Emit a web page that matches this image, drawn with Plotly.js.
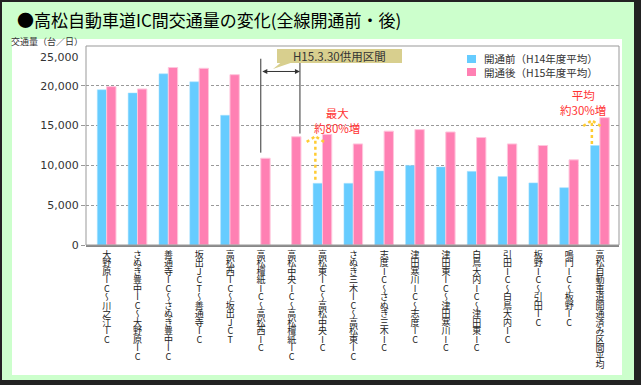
<!DOCTYPE html>
<html>
<head>
<meta charset="utf-8">
<script src="https://cdn.plot.ly/plotly-3.0.1.min.js"></script>
<style>
  html, body { margin: 0; padding: 0; background: #222; }
  #chart { width: 641px; height: 385px; }
</style>
</head>
<body>
<div id="chart"></div>
<script>
// ---- data ----
var categories = [
  "大野原IC～川之江IC",
  "さぬき豊中IC～大野原IC",
  "善通寺IC～さぬき豊中IC",
  "坂出JCT～善通寺IC",
  "高松西IC～坂出JCT",
  "高松檀紙IC～高松西IC",
  "高松中央IC～高松檀紙IC",
  "高松東IC～高松中央IC",
  "さぬき三木IC～高松東IC",
  "志度IC～さぬき三木IC",
  "津田寒川IC～志度IC",
  "津田東IC～津田寒川IC",
  "白鳥大内IC～津田東IC",
  "引田IC～白鳥大内IC",
  "板野IC～引田IC",
  "鳴門IC～板野IC",
  "高松自動車道開通済み区間平均"
];
var beforeOpen = [19500, 19100, 21500, 20500, 16300, null, null, 7750, 7750, 9300, 10000, 9800, 9250, 8600, 7800, 7200, 12500];
var afterOpen  = [19900, 19600, 22300, 22200, 21400, 10900, 13600, 13900, 12700, 14300, 14500, 14200, 13500, 12700, 12500, 10700, 16000];
var seriesNames = ["開通前（H14年度平均）", "開通後（H15年度平均）"];
var yTickVals = [0, 5000, 10000, 15000, 20000];
var yTopLabel = "25,000";
var titleText = "●高松自動車道IC間交通量の変化(全線開通前・後)";
var yTitleText = "交通量（台／日）";
var serviceText = "H15.3.30供用区間";
var maxText = ["最大", "約80%増"];
var avgText = ["平均", "約30%増"];

// ---- layout helpers ----
var W = 641, H = 385;
var M = {l: 86, r: 22, t: 46, b: 140};
var PW = W - M.l - M.r, PH = H - M.t - M.b;
function px(x) { return (x - M.l) / PW; }
function py(y) { return (H - M.b - y) / PH; }
var FONT = '"Noto Sans CJK JP", "Noto Sans", sans-serif';
var BLUE = '#66ccff', PINK = '#ff80b3';

var idx = categories.map(function (c, i) { return i; });

var data = [
  {type: 'bar', name: seriesNames[0], x: idx, y: beforeOpen,
   marker: {color: BLUE, line: {color: '#a6e0ff', width: 0.5}}, showlegend: false},
  {type: 'bar', name: seriesNames[1], x: idx, y: afterOpen,
   marker: {color: PINK, line: {color: '#ffc6dd', width: 1}}, showlegend: false}
];

var shapes = [
  // outer green panel and inner white panel
  {type: 'rect', xref: 'paper', yref: 'paper', x0: px(2), x1: px(634), y0: py(380), y1: py(2),
   fillcolor: '#ccffcc', line: {width: 0}, layer: 'below'},
  {type: 'rect', xref: 'paper', yref: 'paper', x0: px(12), x1: px(622), y0: py(375), y1: py(39),
   fillcolor: '#ffffff', line: {width: 0}, layer: 'below'},
  // plot frame
  {type: 'rect', xref: 'paper', yref: 'paper', x0: 0, x1: 1, y0: 0, y1: 1,
   line: {color: '#999999', width: 1}, layer: 'above'},
  // service section vertical lines
  {type: 'line', xref: 'x', yref: 'y', x0: 5.0, x1: 5.0, y0: 11600, y1: 23400, line: {color: '#333', width: 1}},
  {type: 'line', xref: 'x', yref: 'y', x0: 6.27, x1: 6.27, y0: 14000, y1: 23400, line: {color: '#333', width: 1}},
  // callout box
  {type: 'rect', xref: 'paper', yref: 'paper', x0: px(277), x1: px(402), y0: py(63), y1: py(49),
   fillcolor: '#d8cf8e', line: {width: 0}},
  {type: 'path', xref: 'paper', yref: 'paper',
   path: 'M' + px(281) + ',' + py(62.5) + ' L' + px(292) + ',' + py(62.5) + ' L' + px(273) + ',' + py(69) + ' Z',
   fillcolor: '#d8cf8e', line: {width: 0}},
  // yellow dotted arrows (max increase)
  {type: 'line', x0: 6.77, x1: 6.77, y0: 8200, y1: 13500, line: {color: '#ffcc33', width: 2.5, dash: 'dot'}},
  {type: 'line', x0: 6.49, x1: 6.77, y0: 12950, y1: 13650, line: {color: '#ffcc33', width: 2.5, dash: 'dot'}},
  {type: 'line', x0: 7.05, x1: 6.77, y0: 12950, y1: 13650, line: {color: '#ffcc33', width: 2.5, dash: 'dot'}},
  // yellow dotted arrows (average increase)
  {type: 'line', x0: 15.74, x1: 15.74, y0: 12700, y1: 15500, line: {color: '#ffcc33', width: 2.5, dash: 'dot'}},
  {type: 'line', x0: 15.46, x1: 15.74, y0: 14950, y1: 15650, line: {color: '#ffcc33', width: 2.5, dash: 'dot'}},
  {type: 'line', x0: 16.02, x1: 15.74, y0: 14950, y1: 15650, line: {color: '#ffcc33', width: 2.5, dash: 'dot'}},
  // manual legend swatches
  {type: 'rect', xref: 'paper', yref: 'paper', x0: px(467), x1: px(476), y0: py(63), y1: py(55),
   fillcolor: BLUE, line: {width: 0}},
  {type: 'rect', xref: 'paper', yref: 'paper', x0: px(467), x1: px(476), y0: py(76), y1: py(68),
   fillcolor: PINK, line: {width: 0}}
];

var annotations = [
  {xref: 'paper', yref: 'paper', x: px(85), y: py(42), xanchor: 'right', yanchor: 'middle',
   text: yTitleText, showarrow: false, font: {size: 9, color: '#333', family: FONT}},
  {xref: 'paper', yref: 'paper', x: px(81), y: py(57), xanchor: 'right', yanchor: 'middle',
   text: yTopLabel, showarrow: false, font: {size: 11, color: '#333', family: 'DejaVu Sans'}},
  {xref: 'paper', yref: 'paper', x: px(339.5), y: py(56), xanchor: 'center', yanchor: 'middle',
   text: serviceText, showarrow: false, font: {size: 11.5, color: '#333', family: FONT}},
  {xref: 'x', yref: 'y', axref: 'x', ayref: 'y', x: 6.27, y: 21800, ax: 5.0, ay: 21800,
   text: '', showarrow: true, arrowhead: 2, arrowside: 'end+start', arrowsize: 1, arrowwidth: 1,
   arrowcolor: '#333', standoff: 0, startstandoff: 0},
  {xref: 'x', yref: 'y', x: 7.47, y: 15650, text: maxText.join('<br>'), showarrow: false,
   font: {size: 11.5, color: '#ff3333', family: FONT}},
  {xref: 'x', yref: 'y', x: 15.44, y: 17950, text: avgText.join('<br>'), showarrow: false,
   font: {size: 11.5, color: '#ff3333', family: FONT}},
  {xref: 'paper', yref: 'paper', x: px(482), y: py(65.5), xanchor: 'left', yanchor: 'middle', align: 'left',
   text: seriesNames.join('<br>'), showarrow: false, font: {size: 10.5, color: '#333', family: FONT}}
];

var layout = {
  width: W, height: H,
  margin: M,
  paper_bgcolor: '#222222',
  plot_bgcolor: '#ffffff',
  font: {family: FONT, color: '#333'},
  title: {text: titleText, xref: 'container', yref: 'container', x: 17 / W, xanchor: 'left',
          y: 1 - 21 / H, yanchor: 'middle', font: {size: 17, color: '#000', family: FONT}},
  barmode: 'group', bargap: 0.394, bargroupgap: 0,
  showlegend: false,
  xaxis: {
    type: 'linear', range: [-0.67, 16.62], tickmode: 'array', tickvals: idx, ticktext: categories,
    tickangle: 0, ticks: '', showgrid: false, zeroline: false, ticklabeloverflow: 'allow',
    showline: true, linecolor: '#888', linewidth: 2,
    tickfont: {size: 9, color: '#222', family: FONT}
  },
  yaxis: {
    range: [0, 25000], tickmode: 'array', tickvals: yTickVals, tickformat: ',d',
    ticks: 'outside', ticklen: 4, tickcolor: '#999',
    showgrid: true, gridcolor: '#999', griddash: '3px,2px', gridwidth: 1,
    zeroline: false, showline: false,
    tickfont: {size: 11, color: '#333', family: 'DejaVu Sans'}
  },
  shapes: shapes,
  annotations: annotations
};

var gd = document.getElementById('chart');
Plotly.newPlot(gd, data, layout, {displayModeBar: false}).then(function () {
  var LABEL_TOP = 250;
  var texts = gd.querySelectorAll('.xtick text');
  texts.forEach(function (t) {
    var r = t.getBoundingClientRect();
    var cx = r.left + r.width / 2;
    var svgRoot = t.ownerSVGElement;
    var m = t.parentNode.getScreenCTM().inverse();
    var pt = svgRoot.createSVGPoint();
    pt.x = cx; pt.y = LABEL_TOP;
    var p = pt.matrixTransform(m);
    t.removeAttribute('transform');
    t.setAttribute('x', p.x);
    t.setAttribute('y', p.y);
    t.setAttribute('text-anchor', 'start');
    t.style.display = '';
    t.style.opacity = 1;
    t.style.writingMode = 'vertical-rl';
    t.style.textOrientation = 'upright';
    t.style.letterSpacing = '-0.5px';
  });
});
</script>
</body>
</html>
